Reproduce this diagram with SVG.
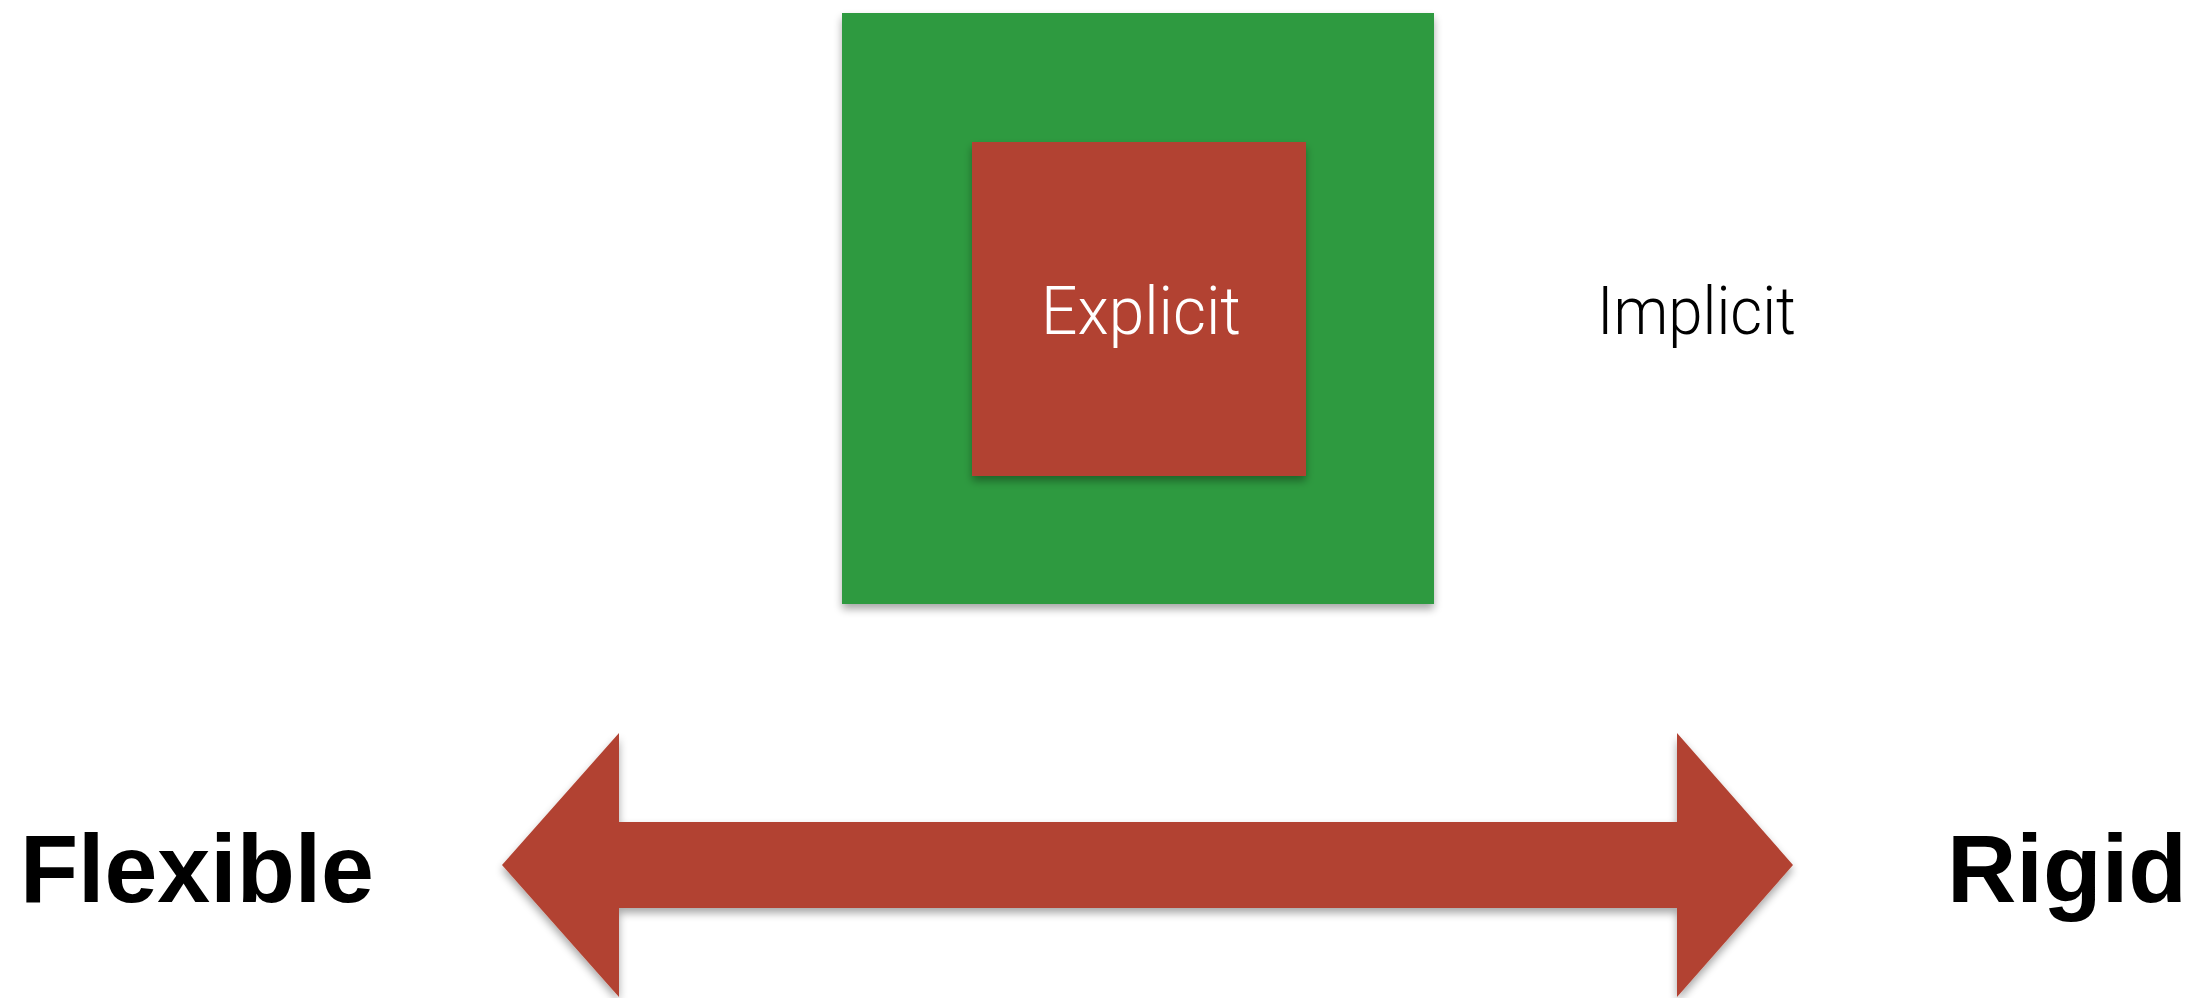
<svg xmlns="http://www.w3.org/2000/svg" width="2203" height="998" viewBox="0 0 2203 998">
  <style>
    .light { font-family: Roboto, "Liberation Sans", Arial, sans-serif; font-weight: 300; font-size: 67px; }
    .bold { font-family: "Liberation Sans", Arial, sans-serif; font-weight: 700; font-size: 97px; fill: #000000; }
  </style>
  <defs>
    <filter id="shadow" x="-10%" y="-10%" width="120%" height="130%">
      <feGaussianBlur in="SourceAlpha" stdDeviation="4"/>
      <feOffset dx="0" dy="5" result="b"/>
      <feComponentTransfer><feFuncA type="linear" slope="0.35"/></feComponentTransfer>
      <feMerge><feMergeNode/><feMergeNode in="SourceGraphic"/></feMerge>
    </filter>
  </defs>
  <rect x="0" y="0" width="2203" height="998" fill="#ffffff"/>
  <g id="implicit-box">
    <rect x="842" y="13" width="592" height="591" fill="#2e9a41" filter="url(#shadow)"/>
  </g>
  <g id="explicit-box">
    <rect x="972" y="142" width="334" height="334" fill="#b24332" filter="url(#shadow)"/>
    <text class="light" x="1141" y="334" text-anchor="middle" fill="#ffffff" textLength="200" lengthAdjust="spacingAndGlyphs">Explicit</text>
  </g>
  <g id="implicit-label">
    <text class="light" x="1597" y="334" fill="#000000" textLength="199" lengthAdjust="spacingAndGlyphs">Implicit</text>
  </g>
  <g id="connectors">
    <polygon points="502,865 619,733 619,822 1677,822 1677,733 1793,865 1677,997 1677,908 619,908 619,997" fill="#b24332" filter="url(#shadow)"/>
  </g>
  <g id="flexible">
    <text class="bold" x="20" y="902" textLength="354" lengthAdjust="spacingAndGlyphs">Flexible</text>
  </g>
  <g id="rigid">
    <text class="bold" x="1947" y="902" textLength="240" lengthAdjust="spacingAndGlyphs">Rigid</text>
  </g>
</svg>
